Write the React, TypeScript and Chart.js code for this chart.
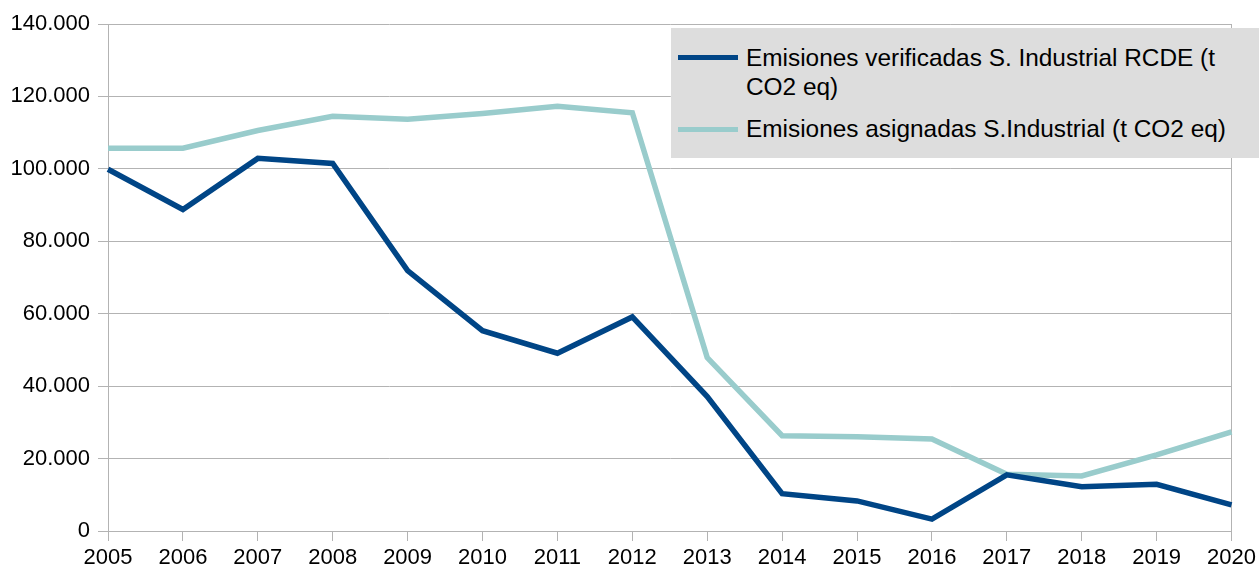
import React, { useEffect, useRef } from "react";
import { Chart, registerables } from "chart.js";

Chart.register(...registerables);

const years = ["2005","2006","2007","2008","2009","2010","2011","2012","2013","2014","2015","2016","2017","2018","2019","2020"];
const verificadas = [99900, 88800, 102900, 101500, 71900, 55300, 49100, 59100, 37100, 10300, 8300, 3300, 15500, 12200, 12900, 7200];
const asignadas = [105700, 105700, 110600, 114500, 113700, 115300, 117300, 115500, 47900, 26300, 26000, 25400, 15700, 15200, 21000, 27400];
const yTicks = [0, 20000, 40000, 60000, 80000, 100000, 120000, 140000];

const label1 = "Emisiones verificadas S. Industrial RCDE (t CO2 eq)";
const label2 = "Emisiones asignadas S.Industrial (t CO2 eq)";

const DARK = "#004586";
const LIGHT = "#99cccc";
const GRID = "#b3b3b3";
const FONT = "'Liberation Sans', Arial, sans-serif";

function fmt(v: number) {
  return v.toLocaleString("de-DE");
}

export default function App() {
  const ref = useRef<HTMLCanvasElement | null>(null);
  useEffect(() => {
    if (!ref.current) return;
    const chart = new Chart(ref.current, {
      type: "line",
      data: {
        labels: years,
        datasets: [
          { label: label1, data: verificadas, borderColor: DARK, backgroundColor: DARK, borderWidth: 5.5, pointRadius: 0, tension: 0 },
          { label: label2, data: asignadas, borderColor: LIGHT, backgroundColor: LIGHT, borderWidth: 5.5, pointRadius: 0, tension: 0 },
        ],
      },
      options: {
        animation: false,
        responsive: false,
        maintainAspectRatio: false,
        layout: { padding: { top: 24, right: 25, left: 0, bottom: 0 } },
        plugins: { legend: { display: false }, tooltip: { enabled: false } },
        scales: {
          x: {
            offset: false,
            grid: {
              color: (ctx: any) => (ctx.index === years.length - 1 ? GRID : "rgba(0,0,0,0)"),
              tickColor: GRID,
              tickLength: 10,
              lineWidth: 1,
            },
            border: { color: GRID, width: 1 },
            ticks: { color: "#000", font: { family: FONT, size: 22 }, padding: 4, maxRotation: 0, autoSkip: false },
            afterFit: (s: any) => { s.height = 41; },
          },
          y: {
            min: 0,
            max: 140000,
            afterBuildTicks: (s: any) => { s.ticks = yTicks.map((v) => ({ value: v })); },
            grid: { color: GRID, tickColor: GRID, tickLength: 10, lineWidth: 1 },
            border: { color: GRID, width: 1 },
            ticks: { color: "#000", font: { family: FONT, size: 22 }, padding: 8, callback: (v: any) => fmt(Number(v)) },
            afterFit: (s: any) => { s.width = 108; },
          },
        },
      },
    });
    return () => chart.destroy();
  }, []);

  return (
    <div style={{ position: "fixed", left: 0, top: 0, width: 1260, height: 572, background: "#fff" }}>
      <canvas ref={ref} width={1260} height={572} style={{ display: "block" }} />
      <div
        style={{
          position: "absolute",
          left: 671,
          top: 28,
          width: 588,
          height: 130,
          background: "#dddddd",
          fontFamily: FONT,
          fontSize: 24.4,
          color: "#000",
          boxSizing: "border-box",
        }}
      >
        <div style={{ position: "absolute", left: 7, top: 27, width: 60, height: 5, background: DARK }} />
        <div style={{ position: "absolute", left: 75, top: 15, lineHeight: "29px", whiteSpace: "nowrap" }}>
          Emisiones verificadas S. Industrial RCDE (t<br />CO2 eq)
        </div>
        <div style={{ position: "absolute", left: 7, top: 99, width: 60, height: 5, background: LIGHT }} />
        <div style={{ position: "absolute", left: 75, top: 86, lineHeight: "29px", whiteSpace: "nowrap" }}>
          {label2}
        </div>
      </div>
    </div>
  );
}
